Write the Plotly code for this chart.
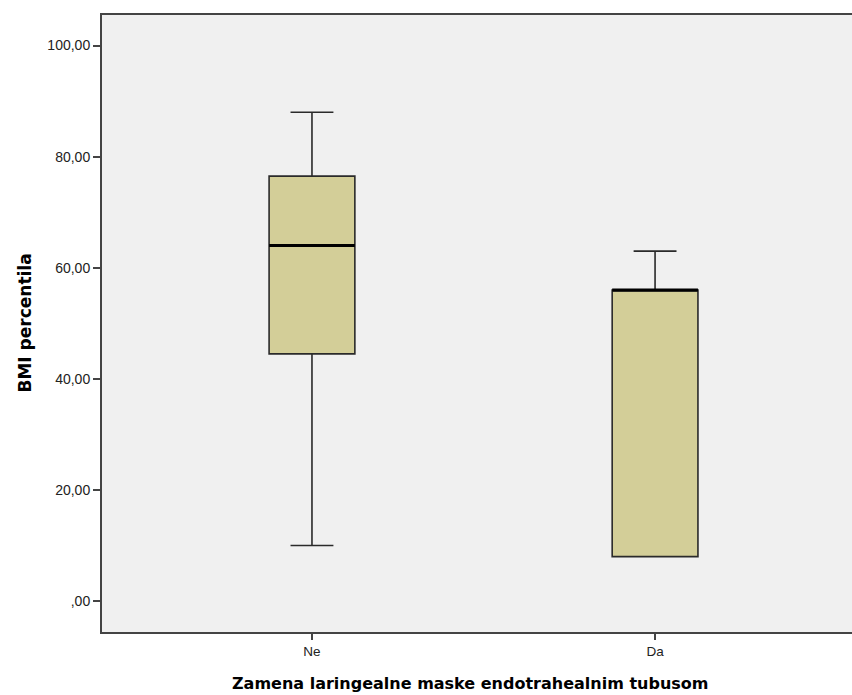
import plotly.graph_objects as go

categories = ["Ne", "Da"]
lower_whisker = [10.0, 8.0]
q1_values = [44.5, 8.0]
medians = [64.0, 56.0]
q3_values = [76.5, 56.0]
upper_whisker = [88.0, 63.0]

y_tick_vals = [0, 20, 40, 60, 80, 100]
y_tick_text = [",00", "20,00", "40,00", "60,00", "80,00", "100,00"]

x_title = "Zamena laringealne maske endotrahealnim tubusom"
y_title = "BMI percentila"

box_w = 0.25
xpos = list(range(len(categories)))

fig = go.Figure()
fig.add_trace(go.Box(
    x=xpos,
    q1=q1_values, median=medians, q3=q3_values,
    lowerfence=lower_whisker, upperfence=upper_whisker,
    width=box_w, whiskerwidth=0.5,
    fillcolor="#D3CE98",
    line=dict(color="#2a2a2a", width=1.6),
    boxpoints=False, hoverinfo="skip", showlegend=False,
))

# thicker median lines, drawn from the median data
mx, my = [], []
for i, m in zip(xpos, medians):
    mx += [i - box_w / 2, i + box_w / 2, None]
    my += [m, m, None]
fig.add_trace(go.Scatter(x=mx, y=my, mode="lines",
                         line=dict(color="black", width=3),
                         hoverinfo="skip", showlegend=False))

fig.update_layout(
    width=852, height=695,
    margin=dict(l=102, r=0, t=15, b=63, pad=0, autoexpand=False),
    paper_bgcolor="white", plot_bgcolor="#F0F0F0",
    font=dict(family="Liberation Sans, Arial, sans-serif", size=13, color="#222"),
    xaxis=dict(
        range=[-0.612, 1.574], tickvals=xpos, ticktext=categories,
        showgrid=False, zeroline=False,
        showline=True, linecolor="#444", linewidth=2, mirror=True,
        ticks="outside", ticklen=6, tickcolor="#444", tickwidth=1.5,
        tickfont=dict(size=13.5, color="#222"),
    ),
    yaxis=dict(
        range=[-5.56, 105.5], tickvals=y_tick_vals, ticktext=y_tick_text,
        showgrid=False, zeroline=False,
        showline=True, linecolor="#444", linewidth=2, mirror=False,
        ticks="outside", ticklen=7, tickcolor="#444", tickwidth=1.5,
        tickfont=dict(size=14, color="#222"),
    ),
    annotations=[
        dict(text="<b>" + x_title + "</b>", xref="paper", yref="paper",
             x=(470 - 102) / 750, y=-(683 - 632) / 617, showarrow=False,
             xanchor="center", yanchor="middle",
             font=dict(family="DejaVu Sans, Verdana, sans-serif", size=16, color="black")),
        dict(text="<b>" + y_title + "</b>", xref="paper", yref="paper",
             x=-(102 - 24) / 750, y=0.5, showarrow=False, textangle=-90,
             xanchor="center", yanchor="middle",
             font=dict(family="DejaVu Sans, Verdana, sans-serif", size=17, color="black")),
    ],
)

fig.write_html(
    "out.html",
    config={"displayModeBar": False},
    post_script="document.documentElement.style.overflow='hidden';document.body.style.overflow='hidden';",
)
